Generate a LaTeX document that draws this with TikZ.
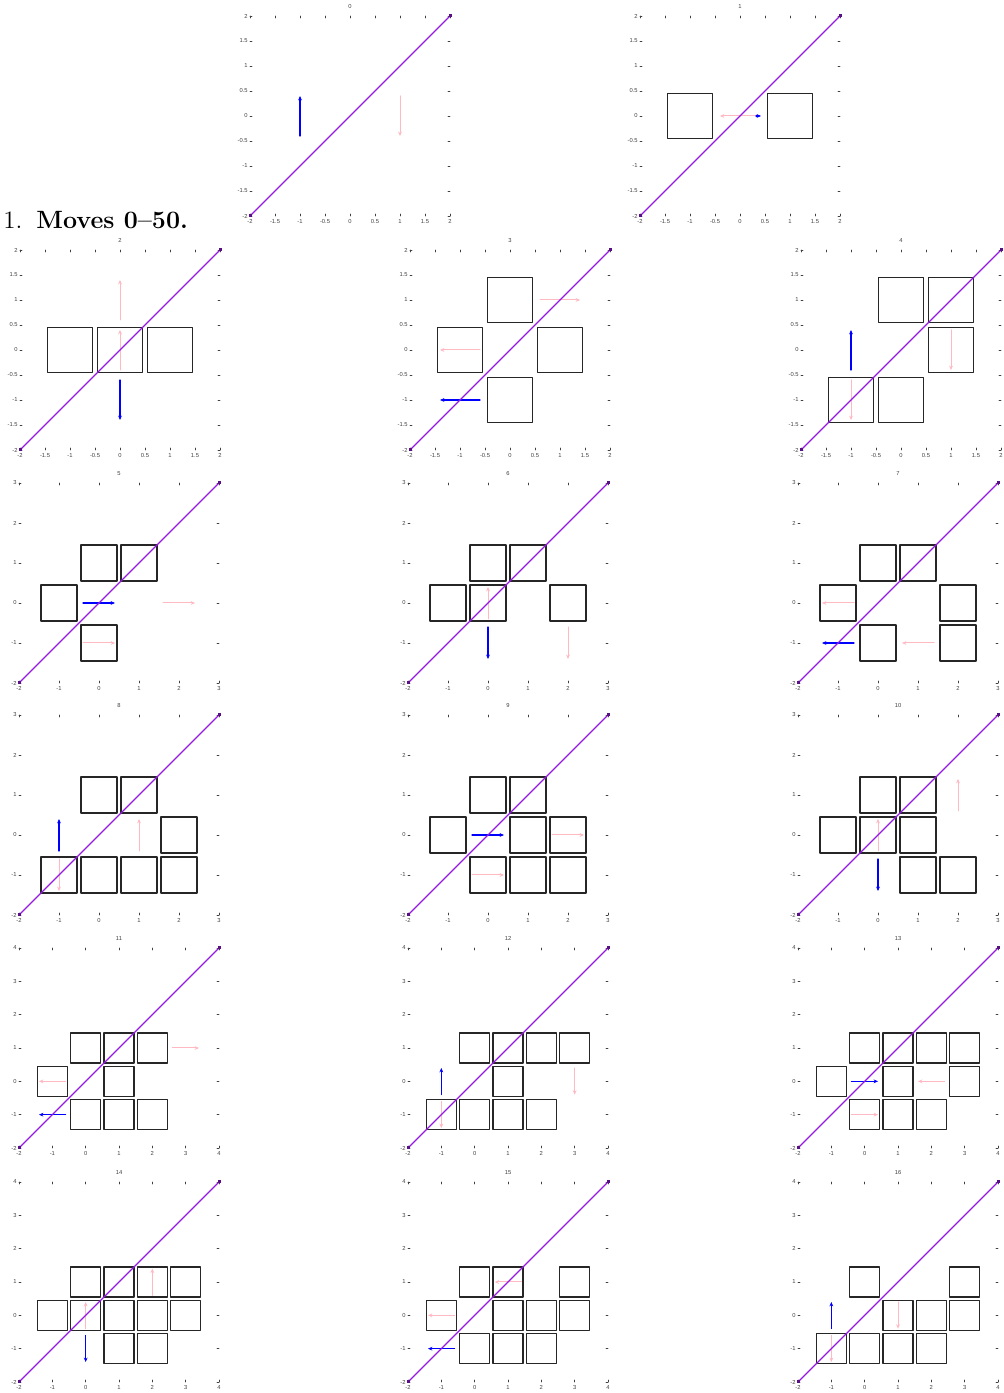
\documentclass[tikz,border=0pt]{standalone}
\usepackage{fontspec}
\newfontfamily\plotfont{Liberation Sans}
\usetikzlibrary{arrows.meta}
\definecolor{tim}{RGB}{150,25,225}
\definecolor{hong}{RGB}{255,185,195}
\pgfkeys{/pgf/number format/assume math mode=true}

\begin{document}
\begin{tikzpicture}[x=0.5pt, y=0.5pt, line cap=round, line join=round, >={Stealth[length=2.2pt,width=1.9pt]}]
	\tikzset{
		vach/.style={black!75, line width=0.35pt},
		so/.style={font=\plotfont\fontsize{2.9}{3.2}\selectfont, text=black!75, inner sep=0pt},
		hopvuong/.style={draw=black!85, line width=0.55pt},
		cheo/.style={tim, line width=0.6pt},
		mxanh/.style={->, blue, line width=0.55pt},
		mhong/.style={->, hong, line width=0.5pt}
	}
	\useasboundingbox (0,0) rectangle (1003,1393);
	
	% TIÊU ĐỀ
	\node[anchor=base west, inner sep=0pt, font=\fontsize{12.5}{15}\selectfont] (tieude) at (3,1164) {1.\hspace{7pt}\textbf{Moves 0--50.}};
	
	% CÁC Ô ĐỒ THỊ: số / gốc x / gốc y / cận trên / bước vạch / các ô / mũi tên xanh / mũi tên hồng
	\foreach \n/\gx/\gy/\hi/\st/\cells/\xanh/\hong in {
		0/250/1177/2/0.5/{}/{-1/-0.4/-1/0.4}/{1/0.4/1/-0.4},
		1/640/1177/2/0.5/{-1/0,1/0}/{0.32/0/0.42/0}/{0.4/0/-0.4/0},
		2/20/943/2/0.5/{-1/0,0/0,1/0}/{0/-0.6/0/-1.4}/{0/-0.4/0/0.4,0/0.6/0/1.4},
		3/410/943/2/0.5/{0/1,-1/0,1/0,0/-1}/{-0.6/-1/-1.4/-1}/{0.6/1/1.4/1,-0.6/0/-1.4/0},
		4/801/943/2/0.5/{0/1,1/1,1/0,-1/-1,0/-1}/{-1/-0.4/-1/0.4}/{-1/-0.6/-1/-1.4,1/0.4/1/-0.4},
		5/19/710/3/1/{0/1,1/1,-1/0,0/-1}/{-0.4/0/0.4/0}/{1.6/0/2.4/0,-0.4/-1/0.4/-1},
		6/408/710/3/1/{0/1,1/1,-1/0,0/0,2/0}/{0/-0.6/0/-1.4}/{0/-0.4/0/0.4,2/-0.6/2/-1.4},
		7/798/710/3/1/{0/1,1/1,-1/0,2/0,0/-1,2/-1}/{-0.6/-1/-1.4/-1}/{-0.6/0/-1.4/0,1.4/-1/0.6/-1},
		8/19/478/3/1/{0/1,1/1,2/0,-1/-1,0/-1,1/-1,2/-1}/{-1/-0.4/-1/0.4}/{-1/-0.6/-1/-1.4,1/-0.4/1/0.4},
		9/408/478/3/1/{0/1,1/1,-1/0,1/0,2/0,0/-1,1/-1,2/-1}/{-0.4/0/0.4/0}/{1.6/0/2.4/0,-0.4/-1/0.4/-1},
		10/798/478/3/1/{0/1,1/1,-1/0,0/0,1/0,1/-1,2/-1}/{0/-0.6/0/-1.4}/{0/-0.4/0/0.4,2/0.6/2/1.4},
		11/19/245/4/1/{0/1,1/1,2/1,-1/0,1/0,0/-1,1/-1,2/-1}/{-0.6/-1/-1.4/-1}/{2.6/1/3.4/1,-0.6/0/-1.4/0},
		12/408/245/4/1/{0/1,1/1,2/1,3/1,1/0,-1/-1,0/-1,1/-1,2/-1}/{-1/-0.4/-1/0.4}/{-1/-0.6/-1/-1.4,3/0.4/3/-0.4},
		13/798/245/4/1/{0/1,1/1,2/1,3/1,-1/0,1/0,3/0,0/-1,1/-1,2/-1}/{-0.4/0/0.4/0}/{2.4/0/1.6/0,-0.4/-1/0.4/-1},
		14/19/11/4/1/{0/1,1/1,2/1,3/1,-1/0,0/0,1/0,2/0,3/0,1/-1,2/-1}/{0/-0.6/0/-1.4}/{0/-0.4/0/0.4,2/0.6/2/1.4},
		15/408/11/4/1/{0/1,1/1,3/1,-1/0,1/0,2/0,3/0,0/-1,1/-1,2/-1}/{-0.6/-1/-1.4/-1}/{1.4/1/0.6/1,-0.6/0/-1.4/0},
		16/798/11/4/1/{0/1,3/1,1/0,2/0,3/0,-1/-1,0/-1,1/-1,2/-1}/{-1/-0.4/-1/0.4}/{-1/-0.6/-1/-1.4,1/0.4/1/-0.4}%
	}{
		\pgfmathsetmacro\donvi{100/(\hi+2)}
		\pgfmathsetmacro\giua{(\hi-2)/2}
		\pgfmathtruncatemacro\nt{round((\hi+2)/\st)}
		\begin{scope}[shift={(\gx,\gy)}, x=\donvi pt, y=\donvi pt, shift={(2,2)}]
			% vạch chia và số trên trục
			\foreach \k in {0,...,\nt}{
				\pgfmathsetmacro\vt{-2+\k*\st}
				\draw[vach] (\vt,-2) -- ++(0pt,1pt);
				\draw[vach] (\vt,\hi) -- ++(0pt,-1pt);
				\draw[vach] (-2,\vt) -- ++(1pt,0pt);
				\draw[vach] (\hi,\vt) -- ++(-1pt,0pt);
				\node[so, anchor=north] (x\n-\k) at ([yshift=-1.5pt]\vt,-2) {\pgfmathprintnumber{\vt}};
				\node[so, anchor=east] (y\n-\k) at ([xshift=-1pt]-2,\vt) {\pgfmathprintnumber{\vt}};
			}
			\node[so, anchor=base] (ten\n) at ([yshift=3.5pt]\giua,\hi) {\n};
			
			% các ô vuông
			\foreach \cx/\cy in \cells
				\draw[hopvuong] (\cx,\cy) ++(-0.45,-0.45) rectangle ++(0.9,0.9);
			
			% mũi tên
			\foreach \xa/\ya/\xb/\yb in \hong
				\draw[mhong] (\xa,\ya) -- (\xb,\yb);
			\foreach \xa/\ya/\xb/\yb in \xanh
				\draw[mxanh] (\xa,\ya) -- (\xb,\yb);
			
			% đường chéo y = x
			\draw[cheo] (-2,-2) -- (\hi,\hi);
			\fill[tim!60!black] (-2,-2) +(-0.75pt,-0.75pt) rectangle +(0.75pt,0.75pt);
			\fill[tim!60!black] (\hi,\hi) +(-0.75pt,-0.75pt) rectangle +(0.75pt,0.75pt);
		\end{scope}
	}
\end{tikzpicture}
\end{document}
